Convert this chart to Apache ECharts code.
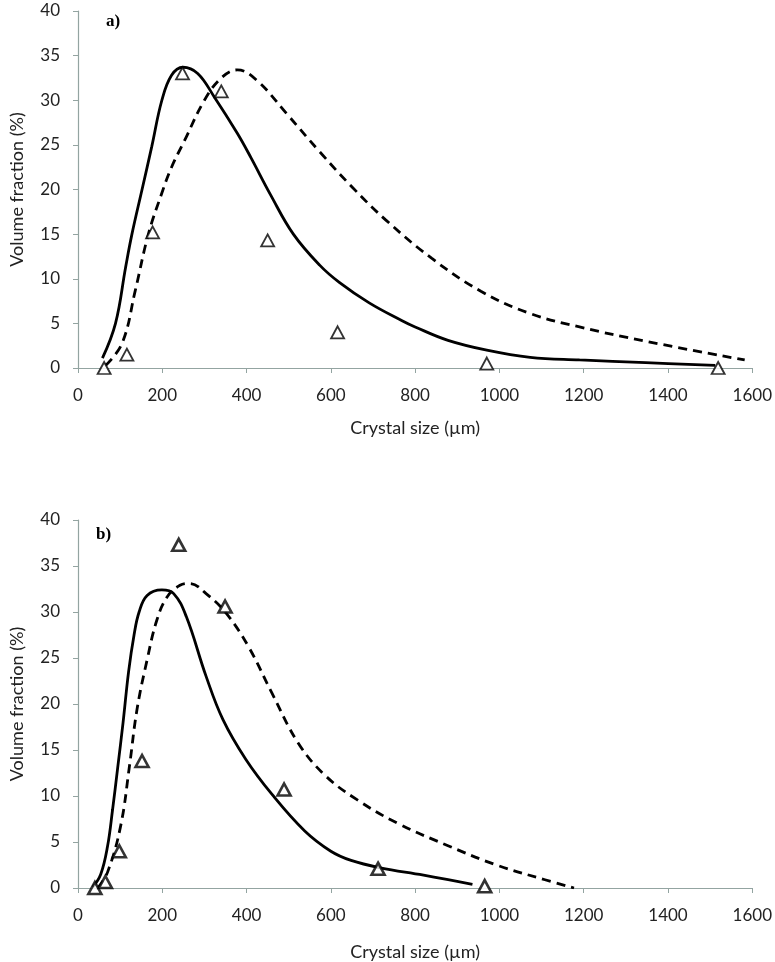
<!DOCTYPE html>
<html lang="en">

<head>
    <meta charset="UTF-8">
    <title>Crystal size distribution</title>
    <style>
        html, body { margin: 0; padding: 0; background: #fff; }
    </style>
</head>

<body>
    <div id="main" style="width: 775px; height: 962px;"></div>

    <script src="https://cdn.jsdelivr.net/npm/echarts@6/dist/echarts.min.js"></script>
    <script>
        // ---- panel a) ----
        var aPointsX = [62, 116, 177, 248, 340, 450, 616, 970, 1519];
        var aPointsY = [0, 1.5, 15.2, 33.0, 31.0, 14.3, 4.0, 0.5, 0];

        var aSolidX = [58, 89, 113, 128, 152, 175, 199, 222, 249, 284, 323, 378, 410, 457, 511, 574, 620, 691, 769, 800, 878, 970, 1073, 1190, 1347, 1512];
        var aSolidY = [1.1, 5, 11.3, 15, 20, 24.8, 30, 32.8, 33.7, 33, 30.4, 26.3, 23.6, 19.4, 15.0, 11.5, 9.6, 7.3, 5.3, 4.6, 3.1, 2.0, 1.2, 0.9, 0.6, 0.3];

        var aDashX = [66, 105, 136, 167, 199, 222, 253, 300, 340, 378, 425, 495, 574, 652, 730, 839, 956, 1073, 1190, 1347, 1582];
        var aDashY = [0.3, 2.8, 8.7, 15, 19.6, 22.5, 25.5, 30, 32.5, 33.4, 32.2, 28.5, 24.2, 20.2, 16.6, 12.3, 8.6, 6.1, 4.6, 3.0, 0.9];

        // ---- panel b) ----
        var bPointsX = [40, 65, 98, 152, 239, 349, 489, 712, 965];
        var bPointsY = [0, 0.65, 4.0, 13.8, 37.3, 30.6, 10.7, 2.1, 0.2];

        var bSolidX = [35, 54, 70, 82, 94, 107, 120, 133, 145, 164, 199, 227, 257, 304, 344, 398, 460, 538, 600, 648, 717, 820, 936];
        var bSolidY = [0.1, 1.5, 4.5, 8.5, 13, 18, 23.5, 27.5, 30, 31.8, 32.4, 32, 29.5, 23, 18.3, 14, 10.2, 6.2, 4.0, 3.0, 2.2, 1.4, 0.4];

        var bDashX = [47, 70, 101, 122, 140, 164, 187, 211, 242, 265, 304, 351, 405, 460, 522, 585, 662, 760, 878, 993, 1108, 1177];
        var bDashY = [0, 1.7, 6.7, 13.2, 19.4, 24.8, 29.1, 31.6, 32.9, 33.1, 32, 29.9, 26.2, 21.2, 15.8, 12.3, 9.6, 7.0, 4.6, 2.5, 0.9, 0];

        var xTicks = [0, 200, 400, 600, 800, 1000, 1200, 1400, 1600];
        var yTicks = [0, 5, 10, 15, 20, 25, 30, 35, 40];

        function pairs(xs, ys) {
            return xs.map(function (x, i) { return [x, ys[i]]; });
        }

        var axisGrey = '#93a4a1';
        var labelFont = { color: '#222', fontSize: 17, fontFamily: 'Lato' };
        var nameFont = { color: '#222', fontSize: 18, fontFamily: 'Lato' };

        function xAxisFor(gridIndex, gap) {
            return {
                type: 'value', gridIndex: gridIndex,
                min: xTicks[0], max: xTicks[xTicks.length - 1], interval: 200,
                name: 'Crystal size (\u00b5m)', nameLocation: 'middle', nameGap: gap,
                nameTextStyle: nameFont,
                axisLine: { lineStyle: { color: axisGrey, width: 1.2 } },
                axisTick: { show: true, length: 5, lineStyle: { color: axisGrey } },
                axisLabel: Object.assign({ margin: 19, formatter: function (v) { return String(v); } }, labelFont),
                splitLine: { show: false }
            };
        }

        function yAxisFor(gridIndex) {
            return {
                type: 'value', gridIndex: gridIndex,
                min: yTicks[0], max: yTicks[yTicks.length - 1], interval: 5,
                name: 'Volume fraction (%)', nameLocation: 'middle', nameGap: 52,
                nameTextStyle: nameFont,
                axisLine: { show: true, lineStyle: { color: axisGrey, width: 1.2 } },
                axisTick: { show: true, length: 5, lineStyle: { color: axisGrey } },
                axisLabel: Object.assign({ margin: 18 }, labelFont),
                splitLine: { show: false }
            };
        }

        function curve(idx, xs, ys, dashed) {
            return {
                type: 'line', xAxisIndex: idx, yAxisIndex: idx,
                data: pairs(xs, ys), smooth: 0.4, showSymbol: false, symbol: 'none',
                lineStyle: { color: '#000', width: 2.8, type: dashed ? [9, 6] : 'solid' },
                z: 2
            };
        }

        function points(idx, xs, ys, bw) {
            return {
                type: 'scatter', xAxisIndex: idx, yAxisIndex: idx,
                data: pairs(xs, ys), symbol: 'triangle', symbolSize: [13, 12],
                itemStyle: { color: '#fff', borderColor: '#000', borderWidth: bw },
                clip: false, z: 3
            };
        }

        var myChart = echarts.init(document.getElementById('main'));
        var option = {
            animation: false,
            backgroundColor: '#fff',
            grid: [
                { left: 72, right: 20, top: 11, height: 357 },
                { left: 70, right: 21, top: 520, height: 369 }
            ],
            xAxis: [xAxisFor(0, 51), xAxisFor(1, 55)],
            yAxis: [yAxisFor(0), yAxisFor(1)],
            graphic: [
                { type: 'text', left: 106, top: 13, style: { text: 'a)', font: 'bold 17px "Liberation Serif"', fill: '#000' } },
                { type: 'text', left: 96, top: 526, style: { text: 'b)', font: 'bold 17px "Liberation Serif"', fill: '#000' } }
            ],
            series: [
                curve(0, aSolidX, aSolidY, false),
                curve(0, aDashX, aDashY, true),
                points(0, aPointsX, aPointsY, 1.8),
                curve(1, bSolidX, bSolidY, false),
                curve(1, bDashX, bDashY, true),
                points(1, bPointsX, bPointsY, 2.6)
            ]
        };
        myChart.setOption(option);
    </script>
</body>

</html>
